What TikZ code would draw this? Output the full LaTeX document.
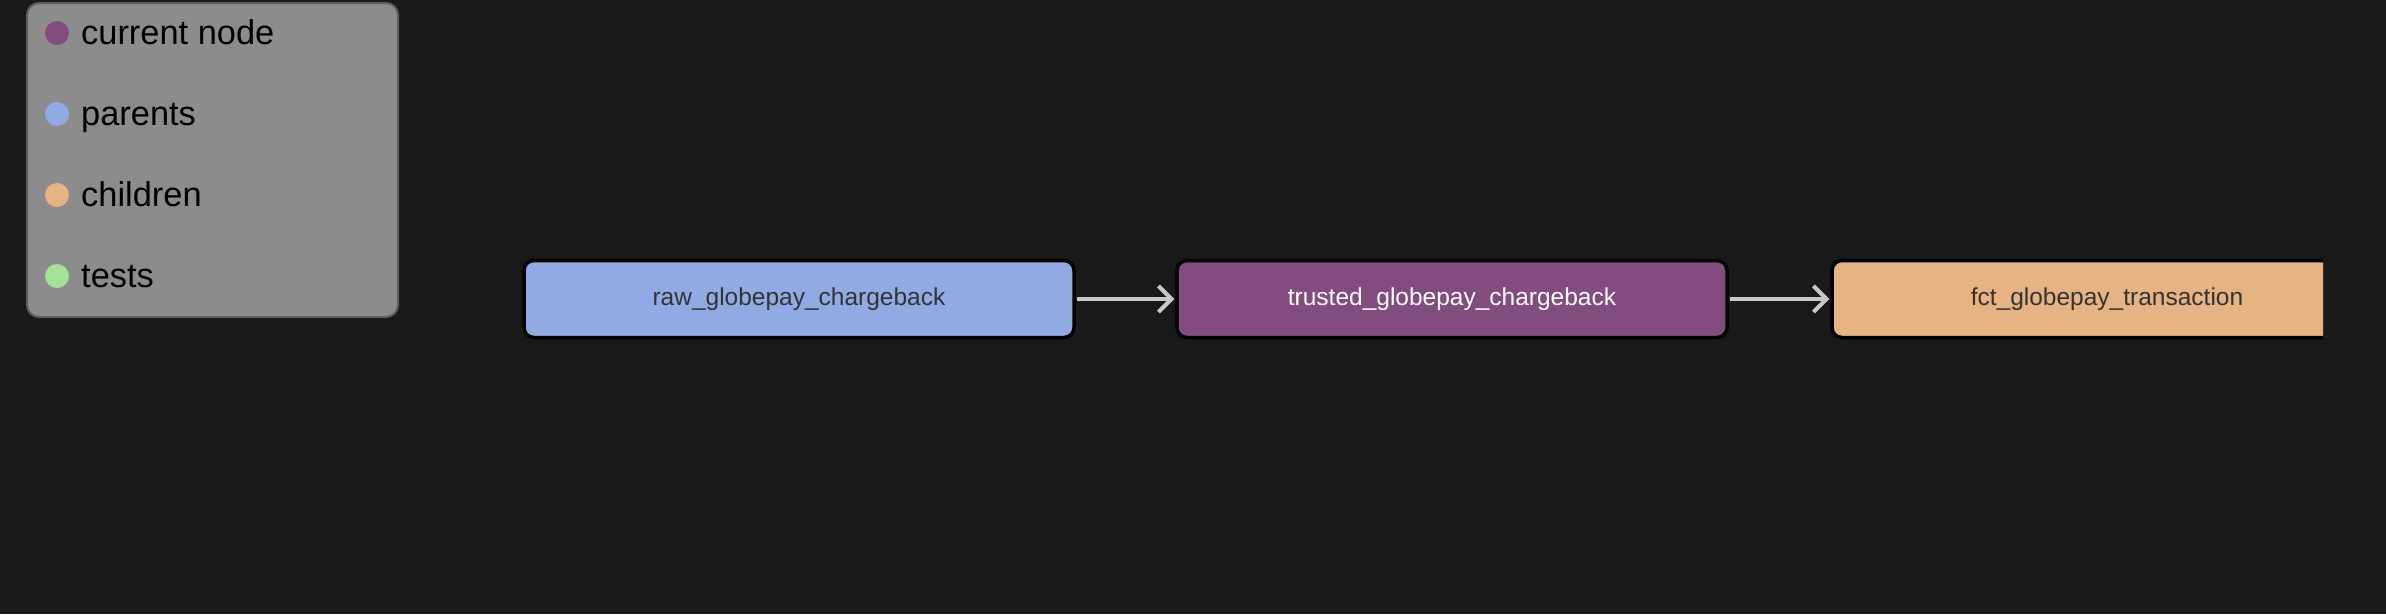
\documentclass[tikz,border=0pt]{standalone}
\usepackage{fontspec}
\setmainfont{Liberation Sans}
\usepackage{xcolor}
\usetikzlibrary{shapes,arrows.meta,positioning,calc}

\definecolor{bgdark}{HTML}{191919}
\definecolor{legendgrey}{HTML}{8C8C8C}
\definecolor{legendedge}{HTML}{5E5E5E}
\definecolor{currentcol}{HTML}{834C7E}
\definecolor{parentcol}{HTML}{92AAE3}
\definecolor{childcol}{HTML}{E6B382}
\definecolor{testcol}{HTML}{A2E394}
\definecolor{arrowgrey}{HTML}{C8C8C8}
\definecolor{darktext}{HTML}{333333}

\begin{document}
\begin{tikzpicture}[x=1pt, y=-1pt,
    model/.style={draw=black, line width=3.5pt, rounded corners=10pt, minimum width=550pt,
        minimum height=77pt, inner sep=0pt, font=\fontsize{24.5}{29}\selectfont, text=darktext},
    flow/.style={draw=arrowgrey, line width=4pt, -{Straight Barb[length=13pt,width=26pt]},
        shorten <=1pt, shorten >=1pt},
    dot/.style={circle, inner sep=0pt, minimum size=24pt},
    legendtext/.style={anchor=base west, inner sep=0pt, font=\fontsize{34.4}{40}\selectfont, text=black}]

    \useasboundingbox (0,0) rectangle (2386,614);
    \fill[bgdark] (0,0) rectangle (2386,614);

    % legend
    \draw[fill=legendgrey, draw=legendedge, line width=2pt, rounded corners=12pt] (27,3) rectangle (398,317);
    \node[dot, fill=currentcol] (dcur) at (57,33) {};
    \node[dot, fill=parentcol] (dpar) at (57,114) {};
    \node[dot, fill=childcol] (dchi) at (57,195) {};
    \node[dot, fill=testcol] (dtst) at (57,276) {};
    \node[legendtext] (lcur) at (81,44) {current node};
    \node[legendtext] (lpar) at (81,125) {parents};
    \node[legendtext] (lchi) at (81,206) {children};
    \node[legendtext] (ltst) at (81,287) {tests};

    % lineage
    \begin{scope}
        \clip (0,0) rectangle (2323,614);
        \node[model, fill=parentcol] (raw) at (799,299) {raw\_globepay\_chargeback};
        \node[model, fill=currentcol, text=white] (trusted) at (1452,299) {trusted\_globepay\_chargeback};
        \node[model, fill=childcol] (fct) at (2107,299) {fct\_globepay\_transaction};
    \end{scope}

    \draw[flow] (raw) -- (trusted);
    \draw[flow] (trusted) -- (fct);
\end{tikzpicture}
\end{document}
